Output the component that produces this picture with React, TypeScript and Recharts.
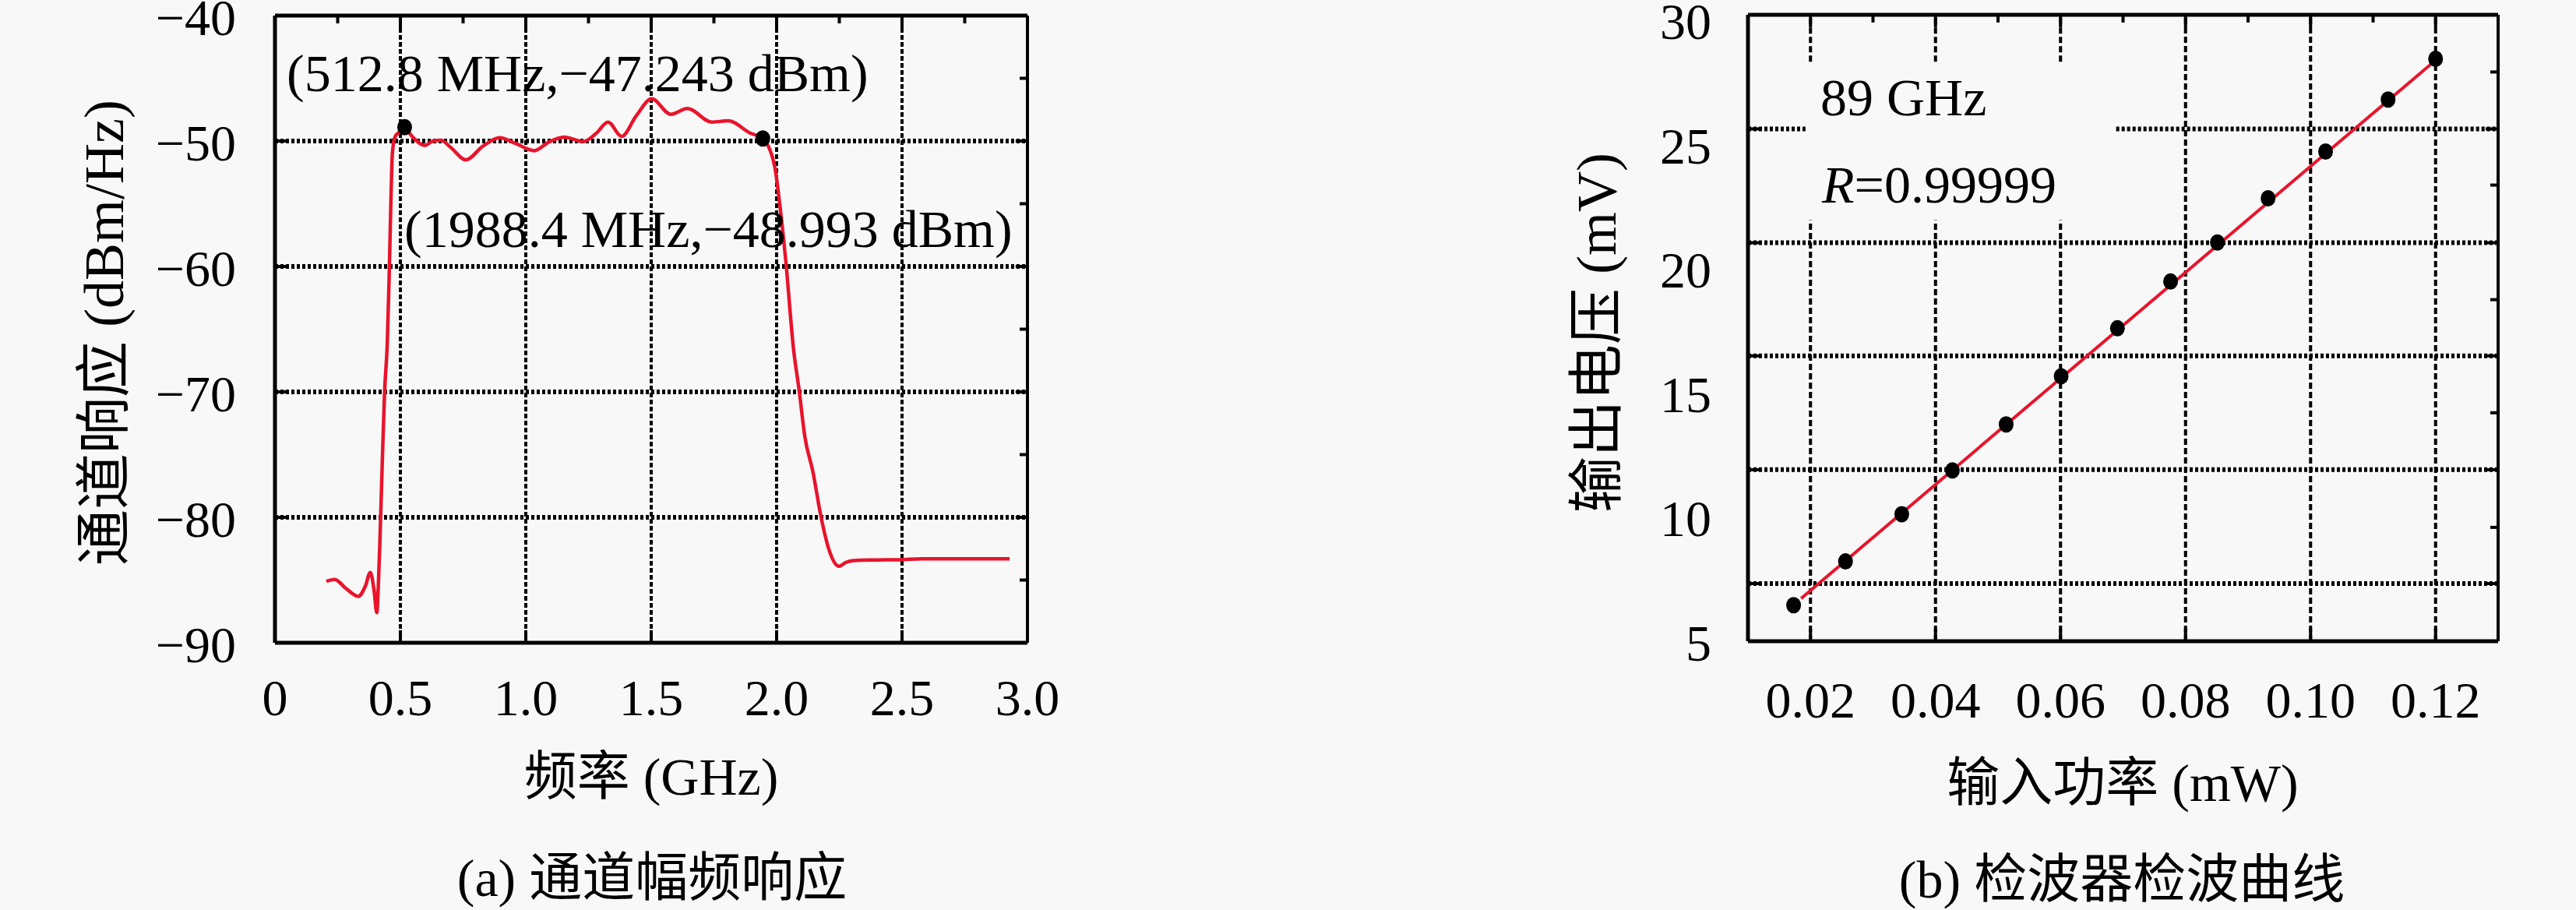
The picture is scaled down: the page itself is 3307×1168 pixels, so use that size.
import React from 'react';
import { ComposedChart, Line, Scatter, XAxis, YAxis, ReferenceLine } from 'recharts';

// ---------- (a) channel amplitude-frequency response ----------
const freqGHz = [
  0.205, 0.238, 0.282, 0.332, 0.36, 0.38, 0.395, 0.406, 0.412, 0.419, 0.428, 0.437, 0.448, 0.455,
  0.462, 0.468, 0.478, 0.495, 0.517, 0.545, 0.598, 0.63, 0.663, 0.7, 0.761, 0.83, 0.896, 0.96,
  1.034, 1.09, 1.153, 1.23, 1.28, 1.328, 1.382, 1.44, 1.502, 1.578, 1.644, 1.742, 1.807, 1.894,
  1.945, 1.992, 2.014, 2.036, 2.068, 2.09, 2.112, 2.145, 2.177, 2.21, 2.249, 2.275, 2.308, 2.4,
  2.493, 2.58, 2.75, 2.929,
];
const respDbm = [
  -85.1, -84.95, -85.65, -86.3, -85.5, -84.4, -85.8, -87.6, -85.5, -81.5, -75.5, -70.0, -66.0, -61.0,
  -55.0, -51.0, -49.7, -49.3, -48.9, -49.6, -50.35, -50.0, -49.94, -50.5, -51.5, -50.4, -49.73, -50.2,
  -50.77, -50.1, -49.69, -50.04, -49.4, -48.49, -49.63, -48.0, -46.63, -47.87, -47.41, -48.49, -48.39, -49.36,
  -49.8, -52.0, -55.3, -59.45, -66.7, -69.9, -73.5, -76.4, -79.96, -82.65, -83.9, -83.6, -83.44, -83.4,
  -83.38, -83.3, -83.3, -83.3,
];
const markerGHz = [0.517, 1.945];
const markerDbm = [-48.9, -49.8];
const freqTicks = [0, 0.5, 1, 1.5, 2, 2.5, 3];
const respTicks = [-90, -80, -70, -60, -50, -40];
const freqGrid = [0.5, 1, 1.5, 2, 2.5];
const respGrid = [-80, -70, -60, -50];
const freqMinor = [0.25, 0.75, 1.25, 1.75, 2.25, 2.75];
const respMinor = [-85, -75, -65, -55, -45];

// ---------- (b) detector curve ----------
const powerMw = [0.0173, 0.0256, 0.0346, 0.0427, 0.0513, 0.0601, 0.0691, 0.0776, 0.0851, 0.0932, 0.1024, 0.1124, 0.12];
const voltMv = [6.45, 8.21, 10.11, 11.87, 13.72, 15.66, 17.59, 19.47, 21.04, 22.82, 24.7, 26.79, 28.43];
const fitPowerMw = [0.0185, 0.1192];
const fitVoltMv = [6.72, 28.2];
const powerTicks = [0.02, 0.04, 0.06, 0.08, 0.1, 0.12];
const voltTicks = [5, 10, 15, 20, 25, 30];
const powerGrid = [0.02, 0.04, 0.06, 0.08, 0.1, 0.12];
const voltGrid = [7.32, 11.9, 16.48, 21.03, 25.61];
const powerMinor = [0.03, 0.05, 0.07, 0.09, 0.11];
const voltMinor = [9.58, 14.19, 18.74, 23.35, 27.9];
const boxPower = [0.0192, 0.0689];
const boxVolt = [21.94, 28.31];

const respData = freqGHz.map((f, i) => ({ f, v: respDbm[i] }));
const markerData = markerGHz.map((f, i) => ({ f, v: markerDbm[i] }));
const pointData = powerMw.map((p, i) => ({ p, v: voltMv[i] }));
const fitData = fitPowerMw.map((p, i) => ({ p, v: fitVoltMv[i] }));

const FONT = "'Liberation Serif', 'Times New Roman', 'Noto Sans CJK SC', serif";
const RED = '#e8142c';
const BG = '#f8f8f8';

const fmtMinus = (v: number) => (v < 0 ? '\u2212' + Math.abs(v) : String(v));

const makeXTick = (dy: number, fmt: (v: number) => string) => (props: any) => (
  <text x={props.x} y={props.y + dy} textAnchor="middle" fontSize={66} fontFamily={FONT} fill="#000">
    {fmt(props.payload.value)}
  </text>
);
const makeYTick = (dx: number, dy: number, fmt: (v: number) => string) => (props: any) => (
  <text x={props.x - dx} y={props.y + dy} textAnchor="end" fontSize={66} fontFamily={FONT} fill="#000">
    {fmt(props.payload.value)}
  </text>
);

const dot = (props: any) => <ellipse cx={props.cx} cy={props.cy} rx={9.5} ry={10.5} fill="#000" />;

const vGridStyle = { stroke: '#000', strokeWidth: 4, strokeDasharray: '6 3' };
const hGridStyle = { stroke: '#000', strokeWidth: 6, strokeDasharray: '4 3' };
const tickStyle = { stroke: '#000', strokeWidth: 4 };
const AXIS = { stroke: '#000', strokeWidth: 5 };

function ChartA() {
  const x0 = 0, x1 = 3, y0 = -90, y1 = -40;
  return (
    <ComposedChart width={1640} height={1168} margin={{ top: 20, right: 321, bottom: 243, left: 253 }}>
      <XAxis
        dataKey="f" type="number" domain={[x0, x1]} ticks={freqTicks} interval={0}
        height={100} tickSize={0} tickMargin={0} tickLine={false}
        axisLine={AXIS}
        tick={makeXTick(93, (v) => (v === 0 ? '0' : v.toFixed(1)))}
      />
      <YAxis
        type="number" domain={[y0, y1]} ticks={respTicks} interval={0}
        width={100} tickSize={0} tickMargin={0} tickLine={false}
        axisLine={AXIS}
        tick={makeYTick(50, 25, fmtMinus)}
      />
      {freqGrid.map((f) => (
        <ReferenceLine key={'vg' + f} segment={[{ x: f, y: y0 }, { x: f, y: y1 }]} {...vGridStyle} />
      ))}
      {respGrid.map((r) => (
        <ReferenceLine key={'hg' + r} segment={[{ x: x0, y: r }, { x: x1, y: r }]} {...hGridStyle} />
      ))}
      {freqGrid.map((f) => (
        <ReferenceLine key={'tb' + f} segment={[{ x: f, y: y0 }, { x: f, y: y0 + 1 }]} {...tickStyle} />
      ))}
      {freqGrid.map((f) => (
        <ReferenceLine key={'tt' + f} segment={[{ x: f, y: y1 }, { x: f, y: y1 - 1 }]} {...tickStyle} />
      ))}
      {respGrid.map((r) => (
        <ReferenceLine key={'tl' + r} segment={[{ x: x0, y: r }, { x: x0 + 0.047, y: r }]} {...tickStyle} />
      ))}
      {respGrid.map((r) => (
        <ReferenceLine key={'tr' + r} segment={[{ x: x1, y: r }, { x: x1 - 0.047, y: r }]} {...tickStyle} />
      ))}
      {freqMinor.map((f) => (
        <ReferenceLine key={'mt' + f} segment={[{ x: f, y: y1 }, { x: f, y: y1 - 0.62 }]} {...tickStyle} />
      ))}
      {respMinor.map((r) => (
        <ReferenceLine key={'mr' + r} segment={[{ x: x1, y: r }, { x: x1 - 0.031, y: r }]} {...tickStyle} />
      ))}
      <ReferenceLine y={y1} stroke="#000" strokeWidth={5} />
      <ReferenceLine x={x1} stroke="#000" strokeWidth={4} />
      <Line
        data={respData} dataKey="v" type="monotone" stroke={RED} strokeWidth={4.5}
        dot={false} activeDot={false} isAnimationActive={false}
      />
      <Scatter data={markerData} dataKey="v" shape={dot} isAnimationActive={false} />
    </ComposedChart>
  );
}

function ChartB() {
  const x0 = 0.01, x1 = 0.13, y0 = 5, y1 = 30.2;
  const vSegs: { key: string; a: number; b: number; p: number }[] = [];
  powerGrid.forEach((p) => {
    if (p > boxPower[0] && p < boxPower[1]) {
      vSegs.push({ key: 'va' + p, p, a: y0, b: boxVolt[0] });
      vSegs.push({ key: 'vb' + p, p, a: boxVolt[1], b: y1 });
    } else {
      vSegs.push({ key: 'v' + p, p, a: y0, b: y1 });
    }
  });
  const hSegs: { key: string; a: number; b: number; v: number }[] = [];
  voltGrid.forEach((v) => {
    if (v > boxVolt[0] && v < boxVolt[1]) {
      hSegs.push({ key: 'ha' + v, v, a: x0, b: boxPower[0] });
      hSegs.push({ key: 'hb' + v, v, a: boxPower[1], b: x1 });
    } else {
      hSegs.push({ key: 'h' + v, v, a: x0, b: x1 });
    }
  });
  return (
    <ComposedChart width={1667} height={1168} margin={{ top: 19, right: 100, bottom: 245, left: 504 }}>
      <XAxis
        dataKey="p" type="number" domain={[x0, x1]} ticks={powerTicks} interval={0}
        height={100} tickSize={0} tickMargin={0} tickLine={false}
        axisLine={AXIS}
        tick={makeXTick(98, (v) => v.toFixed(2))}
      />
      <YAxis
        type="number" domain={[y0, y1]} ticks={voltTicks} interval={0}
        width={100} tickSize={0} tickMargin={0} tickLine={false}
        axisLine={AXIS}
        tick={makeYTick(47, 25, (v) => String(v))}
      />
      {vSegs.map((s) => (
        <ReferenceLine key={s.key} segment={[{ x: s.p, y: s.a }, { x: s.p, y: s.b }]} stroke="#000" strokeWidth={4} strokeDasharray="8 4" />
      ))}
      {hSegs.map((s) => (
        <ReferenceLine key={s.key} segment={[{ x: s.a, y: s.v }, { x: s.b, y: s.v }]} {...hGridStyle} />
      ))}
      {powerGrid.map((p) => (
        <ReferenceLine key={'tb' + p} segment={[{ x: p, y: y0 }, { x: p, y: y0 + 0.5 }]} {...tickStyle} />
      ))}
      {powerGrid.map((p) => (
        <ReferenceLine key={'tt' + p} segment={[{ x: p, y: y1 }, { x: p, y: y1 - 0.5 }]} {...tickStyle} />
      ))}
      {voltGrid.map((v) => (
        <ReferenceLine key={'tl' + v} segment={[{ x: x0, y: v }, { x: x0 + 0.002, y: v }]} {...tickStyle} />
      ))}
      {voltGrid.map((v) => (
        <ReferenceLine key={'tr' + v} segment={[{ x: x1, y: v }, { x: x1 - 0.002, y: v }]} {...tickStyle} />
      ))}
      {powerMinor.map((p) => (
        <ReferenceLine key={'mt' + p} segment={[{ x: p, y: y1 }, { x: p, y: y1 - 0.31 }]} {...tickStyle} />
      ))}
      {voltMinor.map((v) => (
        <ReferenceLine key={'mr' + v} segment={[{ x: x1, y: v }, { x: x1 - 0.00125, y: v }]} {...tickStyle} />
      ))}
      <ReferenceLine y={y1} stroke="#000" strokeWidth={5} />
      <ReferenceLine x={x1} stroke="#000" strokeWidth={4} />
      <Line
        data={fitData} dataKey="v" type="linear" stroke={RED} strokeWidth={4}
        dot={false} activeDot={false} isAnimationActive={false}
      />
      <Scatter data={pointData} dataKey="v" shape={dot} isAnimationActive={false} />
    </ComposedChart>
  );
}

export default function App() {
  const t = { fontFamily: FONT, fill: '#000' };
  return (
    <div style={{ position: 'absolute', left: 0, top: 0, width: 3307, height: 1168, background: BG, overflow: 'hidden' }}>
      <div style={{ position: 'absolute', left: 0, top: 0 }}>
        <ChartA />
      </div>
      <div style={{ position: 'absolute', left: 1640, top: 0 }}>
        <ChartB />
      </div>
      <svg width={3307} height={1168} style={{ position: 'absolute', left: 0, top: 0, pointerEvents: 'none' }}>
        <text x={368} y={117} fontSize={68} {...t}>(512.8 MHz,{'\u2212'}47.243 dBm)</text>
        <text x={519} y={317} fontSize={68} {...t}>(1988.4 MHz,{'\u2212'}48.993 dBm)</text>
        <text x={2337} y={148} fontSize={68} {...t}>89 GHz</text>
        <text x={2339} y={260} fontSize={68} {...t}>
          <tspan fontStyle="italic">R</tspan>=0.99999
        </text>
        <text x={836} y={1020} fontSize={68} textAnchor="middle" {...t}>频率 (GHz)</text>
        <text x={2725} y={1028} fontSize={68} textAnchor="middle" {...t}>输入功率 (mW)</text>
        <text x={837} y={1150} fontSize={68} textAnchor="middle" {...t}>(a) 通道幅频响应</text>
        <text x={2724} y={1152} fontSize={68} textAnchor="middle" {...t}>(b) 检波器检波曲线</text>
        <text transform="translate(134,427) rotate(-90)" fontSize={72} textAnchor="middle" dominantBaseline="central" {...t}>
          通道响应 (dBm/Hz)
        </text>
        <text transform="translate(2050,427) rotate(-90)" fontSize={72} textAnchor="middle" dominantBaseline="central" {...t}>
          输出电压 (mV)
        </text>
      </svg>
    </div>
  );
}
